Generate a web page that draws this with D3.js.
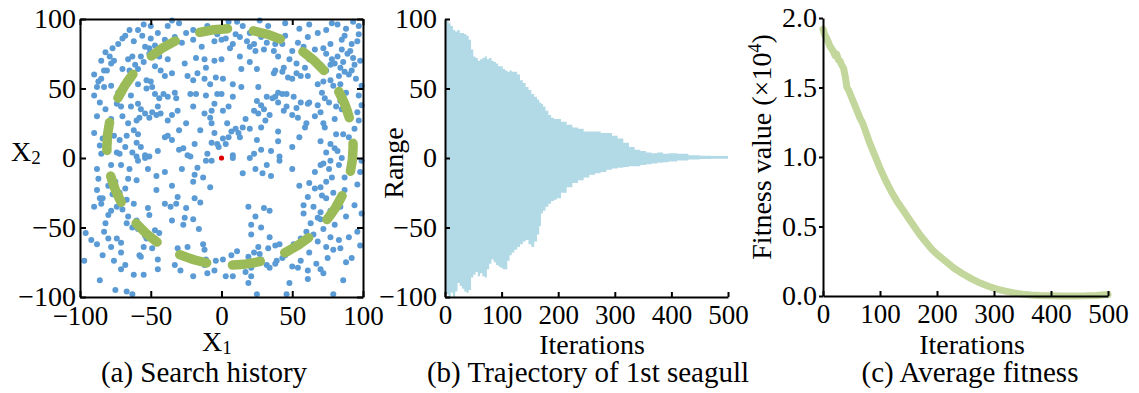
<!DOCTYPE html>
<html>
<head>
<meta charset="utf-8">
<script src="https://cdn.jsdelivr.net/npm/d3@7"></script>
<style>
  body { margin: 0; background: #fff; }
  svg { display: block; font-family: 'Liberation Serif', 'Times New Roman', serif; }
  .axis path, .axis line { stroke: #000; stroke-width: 2; }
  .axis text { fill: #000; font-family: 'Liberation Serif', 'Times New Roman', serif; }
  .axis--x text { font-size: 27px; }
  .axis--y text { font-size: 28px; }
  .label { font-size: 28px; fill: #000; }
  .caption { font-size: 29px; fill: #000; }
</style>
</head>
<body>
<svg width="1139" height="393"></svg>
<script>
// (a) search history: sampled positions of all seagulls [x1, x2]
const searchPoints = [
  [-35,99],[-55,96],[-59,92],[-38,95],[-25,90],[-33,87],[-28,83],[-14,80],[-5,84],[-3,89],[-70,86],[-73,82],
  [-77,79],[-79,73],[-76,70],[-54,80],[-51,79],[-47,81],[-41,79],[-44,73],[-38,71],[-51,75],[-57,73],[-55,69],
  [-61,67],[-65,63],[-64,57],[-59,64],[-81,63],[-83,63],[-85,57],[-83,51],[-88,51],[-78,52],[-73,47],[-68,51],
  [-64,45],[-59,53],[-53,56],[-50,55],[-49,51],[-53,50],[-47,46],[-44,43],[-41,46],[-38,44],[-33,47],[-32,43],
  [-40,59],[-35,61],[-43,63],[-47,66],[-26,68],[-18,72],[-12,71],[-11,65],[-5,70],[0,71],[-17,61],[-24,59],
  [-20,56],[-12,57],[-8,53],[-4,58],[-3,46],[-11,45],[-18,46],[-22,46],[-5,39],[-7,34],[-8,29],[-7,25],
  [-12,32],[-20,37],[-31,34],[-35,31],[-38,27],[-43,32],[-46,31],[-51,29],[-54,32],[-57,35],[-59,39],[-58,29],
  [-60,27],[-64,37],[-71,37],[-74,39],[-73,44],[-45,37],[-49,33],[-76,16],[-72,13],[-67,16],[-59,17],[-60,11],
  [-57,8],[-80,11],[-86,9],[-85,3],[-74,4],[-72,3],[-38,16],[-35,13],[-30,6],[-27,7],[-24,2],[-19,10],
  [-7,11],[-3,10],[-10,3],[-54,2],[-60,1],[-51,1],[-66,71],[-63,73],[-78,68],[-70,64],[-87,55],
  [11,98],[27,99],[4,93],[10,89],[13,87],[3,86],[6,79],[18,84],[23,82],[20,80],[24,77],[28,87],
  [32,83],[38,82],[43,82],[37,77],[40,73],[50,77],[54,83],[61,87],[20,69],[14,64],[25,64],[26,51],
  [37,61],[38,63],[44,65],[43,62],[47,58],[50,57],[53,61],[56,59],[61,59],[59,65],[62,71],[53,68],
  [48,71],[70,67],[71,64],[74,63],[77,67],[80,68],[78,71],[74,75],[72,79],[77,82],[74,92],[78,97],
  [87,88],[92,82],[97,89],[96,84],[91,77],[94,67],[92,63],[84,65],[87,62],[83,59],[77,56],[72,55],
  [68,53],[79,52],[84,53],[71,47],[73,43],[68,38],[76,40],[83,46],[84,41],[88,47],[81,37],[70,33],
  [61,39],[56,40],[53,36],[50,31],[51,44],[46,46],[43,46],[40,47],[38,44],[36,43],[32,44],[40,40],
  [44,34],[46,37],[30,35],[34,31],[31,27],[28,22],[26,32],[23,34],[17,28],[20,21],[15,22],[10,21],
  [4,25],[7,19],[1,34],[13,15],[3,10],[1,14],[8,2],[25,13],[28,6],[23,3],[40,19],[41,1],
  [54,29],[59,22],[70,12],[74,4],[73,22],[77,10],[80,7],[81,17],[86,17],[94,21],[90,32],[96,33],
  [14,51],[8,53],[1,57],[8,44],[0,46],[5,37],[25,41],[28,38],[13,73],
  [-59,-2],[-54,0],[-71,-5],[-52,-8],[-46,-13],[-88,-8],[-87,-15],[-88,-23],[-66,-15],[-60,-16],[-75,-17],
  [-72,-25],[-77,-26],[-73,-29],[-86,-29],[-84,-29],[-85,-33],[-71,-33],[-67,-30],[-62,-33],[-74,-35],[-70,-37],
  [-80,-41],[-82,-47],[-83,-53],[-80,-58],[-78,-64],[-96,-54],[-92,-59],[-97,-74],[-74,-58],[-71,-61],[-71,-68],
  [-67,-47],[-63,-50],[-59,-51],[-54,-56],[-53,-58],[-55,-64],[-58,-70],[-57,-71],[-71,-80],[-55,-84],[-75,-95],
  [-67,-96],[-63,-98],[-47,-52],[-44,-54],[-49,-65],[-45,-73],[-45,-80],[-51,-41],[-52,-36],[-40,-33],[-36,-35],
  [-31,-28],[-32,-33],[-25,-36],[-35,-45],[-26,-43],[-20,-44],[-16,-51],[-27,-48],[-31,-65],[-24,-64],[-33,-77],
  [-29,-81],[-20,-85],[-13,-62],[-12,-66],[-11,-73],[-12,-77],[-4,-74],[-5,-81],[-10,-83],[-19,-29],[-15,-32],
  [-8,-21],[-13,-14],[-20,-17],[-19,-12],[-17,-7],[-11,-2],[-22,1],[-7,-2],[-46,-23],
  [8,0],[20,0],[32,-5],[41,-2],[24,-8],[29,-11],[35,-13],[15,-11],[70,-5],[72,-4],[77,-2],[83,-5],
  [85,0],[87,-14],[78,-14],[74,-17],[70,-21],[66,-22],[79,-25],[71,-27],[74,-29],[87,-23],[96,-19],[94,-34],
  [55,-20],[61,-28],[58,-34],[65,-35],[70,-39],[68,-43],[70,-44],[72,-51],[58,-40],[63,-47],[77,-38],[60,-53],
  [65,-55],[56,-58],[51,-62],[47,-68],[45,-70],[43,-72],[39,-74],[38,-76],[34,-79],[32,-77],[28,-73],[27,-69],
  [33,-65],[38,-63],[41,-62],[23,-68],[26,-64],[19,-71],[21,-79],[17,-82],[21,-85],[19,-90],[11,-67],[7,-70],
  [1,-73],[3,-85],[8,-85],[25,-98],[46,-98],[48,-90],[54,-79],[61,-81],[61,-87],[67,-76],[72,-83],[79,-98],
  [86,-88],[88,-75],[84,-65],[79,-66],[77,-57],[74,-64],[83,-59],[90,-57],[96,-53],[19,-35],[30,-36],[34,-38],
  [24,-42],[21,-48],[28,-50],[21,-55],[34,-57],
  [-50,95],[-45,90],[-30,97],[-20,92],[-10,95],[0,92],[5,98],[15,95],[20,90],[33,95],[45,97],[55,93],
  [62,96],[68,90],[82,96],[88,93],[93,98],[97,95],[-65,92],[-40,85],[-20,85],[0,85],[8,82],[30,78],
  [45,88],[58,80],[66,78],[85,85],[-30,20],[-25,25],[-15,20],[-5,18],[5,15],[12,18],[-2,8],[-28,-8],
  [-35,-20],[-40,-10],[-45,5],[-40,15],[35,5],[40,12],[50,8],[55,15],[60,25],[50,-8],
  [-90,45],[-86,40],[-82,35],[-88,30],[-78,28],[-70,30],[-66,25],[-62,20],[-80,20],[-90,18],[-84,14],[-68,8],
  [-63,4],[-78,-5],[-65,-8],[-68,-22],[-80,-20],[-90,-35],[-78,-38],[-66,-42],[-60,-45],[-88,-62],[-84,-70],[-76,-74],
  [-68,-77],[-62,-84],[-86,-88],[62,40],[66,30],[72,25],[80,28],[85,35],[90,15],[82,5],[76,-8],[66,-10],
  [62,-18],[84,-35],[88,-42],[80,-48],[68,-60],[62,-68],[75,-72],[70,-80],[56,-74],[50,-78],
  [-68,88],[-62,84],[-56,88],[-50,86],[-85,70],[-90,60],[-82,76],[85,78],[89,75],[93,72],[98,70],[82,73],
  [86,69],[90,60],[95,57],[99,52],[97,45],[99,38],[97,27],[99,-2],[98,-10],[99,-40],[98,-63],[92,-72]
];
const bestPoint = [0, 0];
const ringCenter = [6, 8];
const ringRadius = [87, 85];
const ringDashes = 14;

// (b) trajectory envelope of the 1st seagull
const trajIter = [0,4,8,12,16,20,24,28,32,36,40,44,48,52,56,60,64,68,72,76,80,84,88,92,96,100,104,108,112,116,120,
  125,130,135,140,145,150,155,160,165,168,171,175,180,185,190,195,200,210,220,230,240,250,260,270,280,290,300,
  310,320,330,340,350,360,370,380,390,400,420,440,460,480,500];
const trajUpper = [100,99,97,95,92,91,92,90,90,89,88,85,78,73,72,70,71,72,73,71,72,70,69,68,66,66,64,63,62,63,62,
  62,60,56,54,51,49,46,44,42,40,39,37,34,31,29,28,28,26,24,22,21,19,19,19,18,18,16,
  14,11,8,6,5,4,3.5,4,3,3.5,3,2,1.6,1.5,1.5];
const trajLower = [-95,-98,-100,-97,-100,-96,-90,-92,-94,-96,-97,-95,-86,-84,-82,-85,-83,-85,-86,-80,-76,-73,-75,-77,-78,-79,-80,-80,-74,-70,-68,
  -66,-64,-62,-60,-59,-62,-64,-60,-55,-49,-40,-38,-35,-33,-31,-30,-29,-25,-21,-18,-16,-14,-12,-11,-10,-8.5,-7.5,
  -7,-6.5,-6,-6,-5,-4.5,-4,-3.5,-3,-2.5,-1.8,-1,-0.8,-0.6,-0.5];

// (c) average fitness (x10^4)
const fitIter = [0,3,6,9,12,15,18,21,24,27,30,33,36,39,42,45,50,55,60,65,70,76,82,88,94,100,110,120,130,140,150,
  160,170,180,190,200,215,230,245,260,275,290,305,320,335,350,365,380,400,420,440,460,480,500];
const fitValue = [1.92,1.88,1.86,1.83,1.80,1.78,1.76,1.73,1.74,1.70,1.69,1.66,1.64,1.58,1.50,1.48,1.43,1.38,1.33,1.28,1.24,1.17,1.10,1.04,0.98,0.92,0.83,0.75,0.68,0.62,0.56,
  0.50,0.44,0.39,0.34,0.30,0.25,0.20,0.16,0.125,0.095,0.07,0.05,0.035,0.022,0.013,0.007,0.003,0.001,0,0,0.001,0.004,0.01];

const ticksA = [-100, -50, 0, 50, 100];
const ticksB = [0, 100, 200, 300, 400, 500];
const ticksFit = [0, 0.5, 1.0, 1.5, 2.0];

const svg = d3.select('svg');
const intFormat = d3.format('d');

// ---------- (a) ----------
const xA = d3.scaleLinear([-100, 100], [80, 363]);
const yA = d3.scaleLinear([-100, 100], [297, 19]);

const gA = svg.append('g');

gA.append('g')
    .selectAll('circle').data(searchPoints).enter().append('circle')
    .attr('cx', d => xA(d[0]))
    .attr('cy', d => yA(d[1]))
    .attr('r', 3)
    .attr('fill', '#5b9bd5');

const ring = gA.append('ellipse')
    .attr('cx', xA(ringCenter[0]))
    .attr('cy', yA(ringCenter[1]))
    .attr('rx', xA(ringCenter[0] + ringRadius[0]) - xA(ringCenter[0]))
    .attr('ry', yA(ringCenter[1]) - yA(ringCenter[1] + ringRadius[1]))
    .attr('fill', 'none')
    .attr('stroke', '#9bbb59')
    .attr('stroke-width', 9.5)
    .attr('stroke-linecap', 'round');
const ringLen = ring.node().getTotalLength();
const period = ringLen / ringDashes;
const dash = period * 0.52;
ring.attr('stroke-dasharray', dash + ' ' + (period - dash))
    .attr('stroke-dashoffset', dash / 2 - ringLen * 5 / 360);

gA.append('circle')
    .attr('cx', xA(bestPoint[0]))
    .attr('cy', yA(bestPoint[1]))
    .attr('r', 2.6)
    .attr('fill', '#e00000');

gA.append('g').attr('class', 'axis axis--x')
    .attr('transform', 'translate(0,297)')
    .call(d3.axisBottom(xA).tickValues(ticksA).tickSizeInner(-6).tickSizeOuter(0).tickPadding(9).tickFormat(intFormat));
gA.append('g').attr('class', 'axis')
    .attr('transform', 'translate(0,19)')
    .call(d3.axisTop(xA).tickValues(ticksA).tickSizeInner(-6).tickSizeOuter(0).tickFormat(''));
gA.append('g').attr('class', 'axis axis--y')
    .attr('transform', 'translate(80,0)')
    .call(d3.axisLeft(yA).tickValues(ticksA).tickSizeInner(-6).tickSizeOuter(0).tickPadding(4).tickFormat(intFormat));
gA.append('g').attr('class', 'axis')
    .attr('transform', 'translate(363,0)')
    .call(d3.axisRight(yA).tickValues(ticksA).tickSizeInner(-6).tickSizeOuter(0).tickFormat(''));

const x2 = gA.append('text').attr('class', 'label').attr('x', 11).attr('y', 161);
x2.append('tspan').text('X');
x2.append('tspan').attr('font-size', 19).attr('dy', 3).text('2');
const x1 = gA.append('text').attr('class', 'label').attr('x', 202).attr('y', 351);
x1.append('tspan').text('X');
x1.append('tspan').attr('font-size', 19).attr('dy', 3).text('1');
gA.append('text').attr('class', 'caption').attr('x', 204).attr('y', 382)
    .attr('text-anchor', 'middle').text('(a) Search history');

// ---------- (b) ----------
const xB = d3.scaleLinear([0, 500], [445, 728]);
const yB = d3.scaleLinear([-100, 100], [297, 19]);
const gB = svg.append('g');

gB.append('path')
    .datum(d3.range(trajIter.length))
    .attr('fill', '#b2dae6')
    .attr('d', d3.area()
        .curve(d3.curveStep)
        .x(i => xB(trajIter[i]))
        .y0(i => yB(trajLower[i]))
        .y1(i => yB(trajUpper[i])));

gB.append('g').attr('class', 'axis axis--x')
    .attr('transform', 'translate(0,297)')
    .call(d3.axisBottom(xB).tickValues(ticksB).tickSizeInner(-5).tickSizeOuter(0).tickPadding(8).tickFormat(intFormat));
gB.append('g').attr('class', 'axis axis--y')
    .attr('transform', 'translate(445,0)')
    .call(d3.axisLeft(yB).tickValues(ticksA).tickSizeInner(-5).tickSizeOuter(0).tickPadding(8).tickFormat(intFormat));

gB.append('text').attr('class', 'label')
    .attr('transform', 'translate(403,163) rotate(-90)')
    .attr('text-anchor', 'middle').text('Range');
gB.append('text').attr('class', 'label').attr('x', 592).attr('y', 354)
    .attr('text-anchor', 'middle').text('Iterations');
gB.append('text').attr('class', 'caption').attr('x', 588).attr('y', 382)
    .attr('text-anchor', 'middle').text('(b) Trajectory of 1st seagull');

// ---------- (c) ----------
const xC = d3.scaleLinear([0, 500], [823, 1108]);
const yC = d3.scaleLinear([0, 2], [296, 18]);
const gC = svg.append('g');

gC.append('path')
    .datum(d3.range(fitIter.length))
    .attr('fill', 'none')
    .attr('stroke', '#c3d69b')
    .attr('stroke-width', 7)
    .attr('stroke-linejoin', 'round')
    .attr('stroke-linecap', 'round')
    .attr('d', d3.line()
        .x(i => xC(fitIter[i]))
        .y(i => yC(fitValue[i])));

gC.append('g').attr('class', 'axis axis--x')
    .attr('transform', 'translate(0,296)')
    .call(d3.axisBottom(xC).tickValues(ticksB).tickSizeInner(-5).tickSizeOuter(0).tickPadding(8).tickFormat(intFormat));
gC.append('g').attr('class', 'axis axis--y')
    .attr('transform', 'translate(823,0)')
    .call(d3.axisLeft(yC).tickValues(ticksFit).tickSizeInner(4).tickSizeOuter(0).tickPadding(2).tickFormat(d3.format('.1f')));

const fl = gC.append('text').attr('class', 'label')
    .attr('transform', 'translate(771,147) rotate(-90)')
    .attr('text-anchor', 'middle');
fl.append('tspan').text('Fitness value (×10');
fl.append('tspan').attr('font-size', 18).attr('dy', -10).text('4');
fl.append('tspan').attr('dy', 10).text(')');
gC.append('text').attr('class', 'label').attr('x', 972).attr('y', 354)
    .attr('text-anchor', 'middle').text('Iterations');
gC.append('text').attr('class', 'caption').attr('x', 970).attr('y', 382)
    .attr('text-anchor', 'middle').text('(c) Average fitness');
</script>
</body>
</html>
